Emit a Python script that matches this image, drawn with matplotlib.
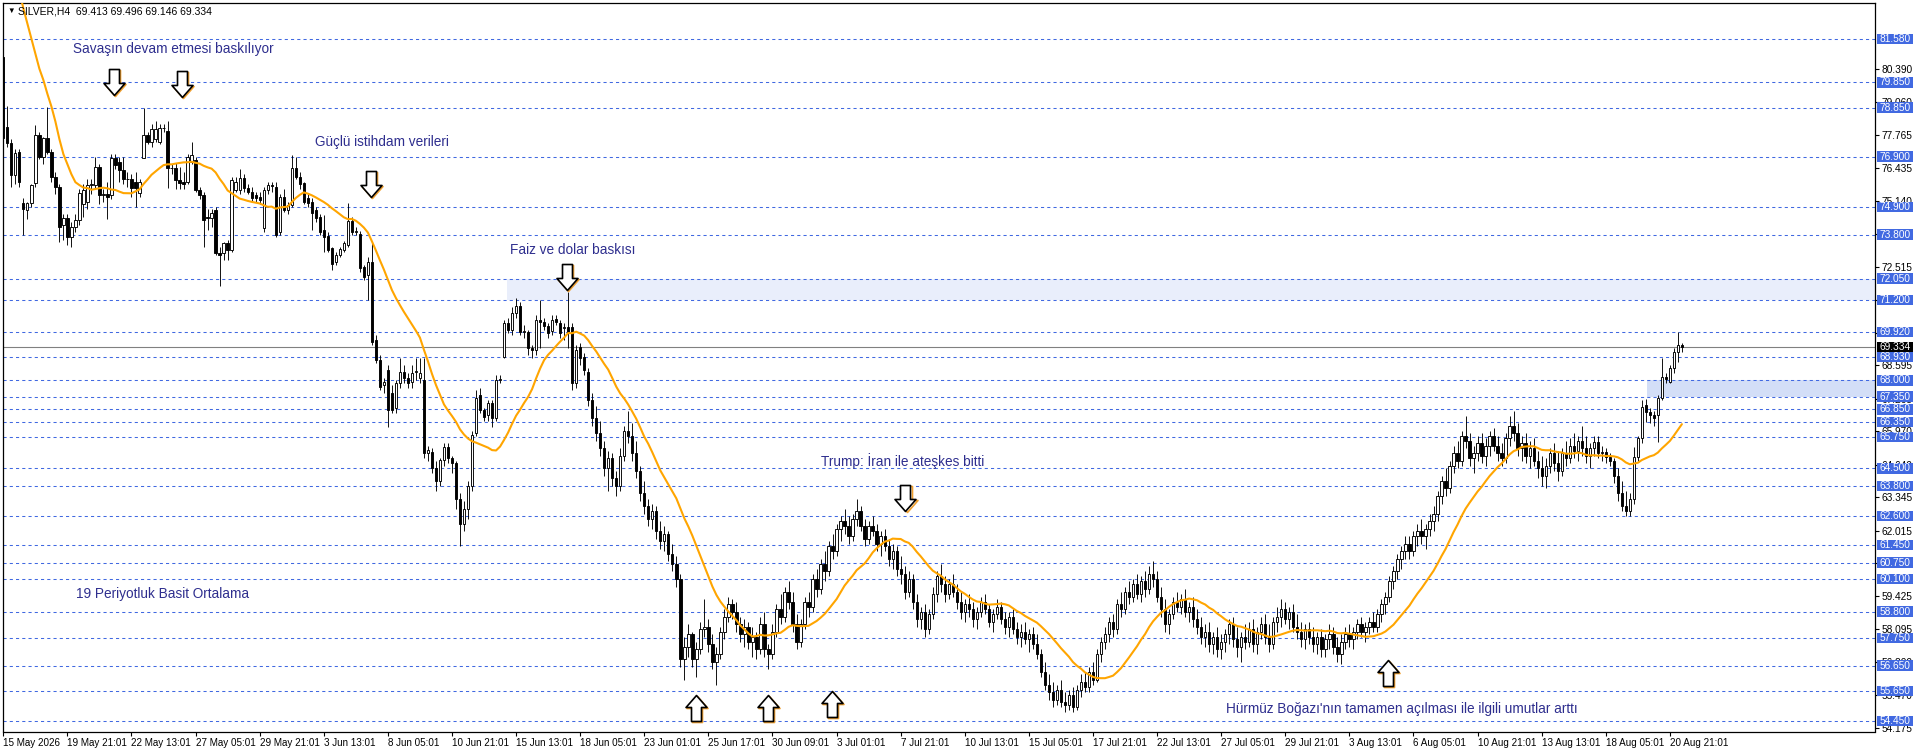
import numpy as np
import matplotlib
matplotlib.use("Agg")
import matplotlib.pyplot as plt
from matplotlib.patches import Rectangle
from matplotlib.path import Path
import matplotlib.transforms as mtransforms

# ---------------- data (SILVER, H4) ----------------
opens = [
    80.86, 78.09, 77.43, 76.17, 77.10, 75.04, 74.78, 75.04, 75.84, 77.76,
    76.90, 77.63, 77.10, 76.10, 75.71, 74.18, 74.45, 73.72, 74.12, 74.38,
    75.00, 75.10, 75.77, 75.77, 76.50, 75.38, 75.40, 75.38, 76.83, 76.70,
    76.37, 76.00, 76.00, 75.90, 75.44, 76.83, 77.76, 77.50, 77.60, 77.50,
    78.03, 77.93, 76.44, 76.44, 75.97, 75.91, 75.91, 76.70, 76.77, 75.57,
    75.38, 74.50, 74.45, 74.78, 73.05, 73.05, 73.45, 73.19, 75.57, 75.57,
    76.04, 75.64, 75.51, 75.37, 75.31, 74.05, 75.57, 75.77, 75.70, 73.92,
    75.31, 74.78, 74.98, 76.44, 76.10, 75.84, 75.24, 75.11, 74.78, 74.51,
    73.98, 73.74, 73.25, 72.72, 72.99, 73.19, 73.39, 74.32, 73.92, 73.82,
    72.52, 72.19, 72.72, 69.61, 68.81, 67.82, 68.41, 67.49, 66.89, 67.88,
    68.35, 68.08, 67.95, 68.35, 68.08, 68.02, 65.10, 65.16, 64.50, 64.00,
    64.83, 65.36, 64.90, 64.70, 63.30, 62.30, 62.90, 63.80, 65.89, 67.42,
    66.82, 66.62, 67.09, 66.49, 68.02, 68.94, 70.27, 70.00, 70.67, 70.96,
    69.94, 69.94, 69.28, 69.21, 70.40, 70.34, 70.16, 69.96, 70.43, 70.27,
    70.10, 70.14, 70.14, 67.88, 69.34, 68.94, 68.35, 67.22, 66.50, 65.90,
    65.30, 64.50, 64.90, 64.10, 63.80, 65.00, 66.00, 65.80, 65.10, 64.40,
    63.50, 63.00, 62.50, 62.80, 62.00, 61.60, 61.90, 61.10, 60.70, 60.10,
    56.90, 57.40, 57.90, 56.90, 57.30, 58.10, 58.20, 57.50, 56.80, 57.10,
    58.00, 58.60, 59.10, 58.80, 58.30, 57.90, 58.20, 57.60, 57.80, 57.30,
    58.30, 57.30, 57.10, 58.00, 58.90, 58.60, 59.60, 59.20, 58.30, 57.60,
    58.30, 59.20, 59.00, 60.10, 59.70, 60.70, 60.40, 61.40, 61.20, 62.10,
    62.40, 62.20, 61.80, 62.50, 62.80, 62.20, 61.70, 62.20, 62.00, 61.50,
    61.80, 61.40, 60.90, 61.20, 60.50, 60.30, 59.60, 60.10, 59.20, 58.50,
    58.80, 58.10, 58.70, 59.50, 60.20, 59.90, 59.50, 59.90, 59.60, 59.20,
    58.80, 59.10, 58.90, 58.50, 58.80, 59.20, 58.90, 58.40, 58.70, 59.00,
    58.50, 58.20, 58.60, 58.10, 57.80, 58.00, 57.70, 57.90, 57.50, 57.10,
    56.40, 55.90, 55.60, 55.30, 55.70, 55.20, 55.10, 55.50, 55.00, 55.70,
    56.00, 55.80, 56.40, 56.10, 57.10, 57.60, 57.90, 58.40, 58.10, 59.10,
    58.90, 59.60, 59.40, 59.90, 59.50, 60.00, 59.70, 60.30, 60.10, 59.40,
    58.90, 58.30, 58.70, 59.20, 59.00, 59.30, 58.80, 59.00, 58.50, 58.20,
    57.80, 58.00, 57.50, 57.80, 57.30, 57.60, 57.90, 58.30, 57.70, 57.40,
    57.80, 57.60, 58.10, 57.50, 58.00, 58.30, 57.80, 57.50, 58.40, 58.60,
    58.90, 58.50, 58.80, 58.20, 58.00, 57.70, 58.10, 57.80, 57.50, 57.80,
    57.30, 57.70, 57.90, 57.40, 57.10, 57.60, 57.90, 57.70, 58.00, 58.30,
    58.00, 58.20, 58.40, 58.20, 58.70, 59.10, 59.40, 60.00, 60.40, 60.90,
    61.20, 61.50, 61.20, 61.80, 62.00, 61.80, 62.10, 62.40, 62.70, 63.40,
    64.00, 63.70, 64.60, 65.10, 64.80, 65.80, 65.60, 64.90, 65.10, 65.50,
    65.00, 65.40, 65.80, 65.40, 65.10, 64.90, 65.70, 66.20, 65.90, 65.30,
    65.50, 65.00, 65.30, 64.80, 64.50, 64.20, 64.60, 65.10, 64.70, 64.40,
    65.10, 64.90, 65.40, 65.20, 65.60, 65.30, 65.00, 65.30, 65.56, 65.10,
    65.16, 64.96, 64.80, 64.20, 63.50, 63.00, 62.80, 63.30, 64.96, 65.69,
    67.02, 66.75, 66.62, 66.62, 67.28, 68.15, 67.95, 68.48, 69.11, 69.413,
]
highs = [
    81.60, 78.90, 77.60, 77.20, 77.20, 75.24, 75.10, 75.80, 78.16, 77.90,
    77.70, 78.89, 77.20, 76.30, 75.80, 74.60, 74.60, 74.30, 74.60, 75.60,
    75.80, 76.00, 76.00, 76.90, 76.60, 75.60, 75.90, 77.00, 77.00, 76.90,
    76.90, 76.30, 76.20, 76.30, 76.00, 78.82, 77.90, 78.20, 78.30, 78.20,
    78.20, 78.30, 76.60, 76.64, 76.50, 76.30, 77.00, 77.50, 76.90, 75.70,
    75.50, 74.80, 74.80, 74.90, 73.30, 73.50, 73.60, 76.10, 76.10, 76.40,
    76.20, 75.80, 75.70, 75.50, 75.50, 75.70, 75.90, 75.90, 75.90, 75.40,
    75.60, 75.10, 76.97, 76.90, 76.30, 75.90, 75.40, 75.24, 74.90, 74.60,
    74.58, 73.90, 73.30, 73.10, 73.30, 73.55, 75.04, 74.50, 74.10, 73.95,
    72.60, 72.92, 73.45, 69.80, 69.00, 68.10, 68.60, 67.80, 68.00, 68.88,
    68.60, 68.30, 68.60, 68.90, 68.90, 68.90, 65.40, 65.30, 64.80, 64.90,
    65.50, 65.50, 65.00, 64.80, 63.50, 63.20, 64.00, 66.00, 67.60, 67.70,
    66.90, 67.20, 67.20, 68.20, 68.20, 70.40, 70.50, 70.90, 71.26, 71.10,
    70.20, 70.00, 69.40, 70.60, 71.20, 70.50, 70.30, 70.60, 70.60, 70.40,
    70.30, 71.53, 70.30, 69.40, 69.50, 69.10, 68.50, 67.50, 67.00, 66.40,
    65.60, 65.20, 65.10, 64.40, 65.30, 66.20, 66.80, 66.30, 65.60, 64.60,
    64.00, 63.30, 63.10, 63.00, 62.40, 62.20, 62.00, 61.50, 61.00, 60.30,
    57.80, 58.30, 58.00, 57.60, 58.40, 59.30, 58.50, 57.90, 57.40, 58.20,
    58.90, 59.40, 59.30, 59.20, 58.60, 58.50, 58.40, 58.20, 58.00, 58.60,
    58.80, 57.50, 58.30, 59.10, 59.50, 59.80, 60.00, 59.60, 58.70, 58.50,
    59.40, 59.60, 60.30, 60.50, 60.90, 61.20, 61.60, 61.90, 62.30, 62.60,
    62.90, 62.60, 62.70, 63.30, 63.00, 62.50, 62.40, 62.60, 62.30, 62.00,
    62.10, 61.70, 61.50, 61.40, 61.00, 60.60, 60.40, 60.30, 59.50, 59.00,
    59.10, 58.90, 59.80, 60.40, 60.70, 60.20, 60.10, 60.30, 59.90, 59.60,
    59.30, 59.50, 59.20, 59.00, 59.40, 59.50, 59.10, 58.90, 59.30, 59.20,
    58.80, 58.80, 58.90, 58.40, 58.30, 58.40, 58.10, 58.20, 57.90, 57.30,
    56.80, 56.30, 56.00, 55.90, 56.10, 55.60, 55.70, 55.80, 55.90, 56.30,
    56.40, 56.60, 56.80, 57.30, 57.80, 58.20, 58.60, 58.70, 59.30, 59.60,
    59.80, 60.00, 60.10, 60.30, 60.20, 60.40, 60.60, 60.80, 60.40, 59.80,
    59.30, 58.90, 59.40, 59.60, 59.50, 59.70, 59.20, 59.40, 58.90, 58.60,
    58.30, 58.40, 58.00, 58.20, 57.90, 58.10, 58.50, 58.60, 58.20, 58.00,
    58.30, 58.40, 58.50, 58.20, 58.60, 58.70, 58.30, 58.60, 59.00, 59.30,
    59.20, 59.00, 59.10, 58.70, 58.40, 58.30, 58.40, 58.20, 58.00, 58.10,
    57.90, 58.30, 58.20, 57.80, 57.90, 58.20, 58.30, 58.20, 58.50, 58.60,
    58.40, 58.60, 58.80, 58.90, 59.30, 59.60, 60.20, 60.60, 61.10, 61.40,
    61.80, 61.80, 62.00, 62.30, 62.50, 62.30, 62.70, 63.00, 63.60, 64.20,
    64.50, 64.80, 65.40, 65.60, 66.00, 66.60, 65.90, 65.40, 65.80, 65.90,
    65.70, 66.00, 66.10, 65.80, 65.50, 65.90, 66.60, 66.80, 66.30, 65.80,
    65.90, 65.60, 65.70, 65.20, 65.00, 64.90, 65.30, 65.50, 65.20, 65.30,
    65.60, 65.70, 65.90, 65.80, 66.20, 65.80, 65.50, 65.80, 65.80, 65.40,
    65.30, 65.10, 64.90, 64.50, 64.00, 63.60, 63.50, 65.36, 65.80, 67.20,
    67.25, 66.90, 66.80, 67.40, 68.90, 68.30, 68.60, 69.30, 69.94, 69.496,
]
lows = [
    77.40, 77.30, 75.70, 75.80, 75.70, 73.78, 74.40, 74.90, 75.70, 76.80,
    76.60, 77.00, 75.90, 75.40, 73.50, 73.60, 73.40, 73.30, 73.90, 74.20,
    74.50, 74.80, 75.40, 75.60, 75.00, 75.10, 74.40, 75.20, 76.40, 75.90,
    75.80, 75.70, 75.30, 74.90, 75.30, 76.83, 77.40, 77.30, 77.50, 77.40,
    77.90, 75.64, 76.20, 75.60, 75.60, 75.60, 75.80, 76.60, 75.50, 75.20,
    73.32, 74.00, 74.10, 73.00, 71.75, 72.80, 72.80, 73.10, 75.50, 75.40,
    75.50, 75.40, 75.10, 75.10, 75.00, 73.90, 75.40, 75.50, 73.70, 73.80,
    74.70, 74.60, 74.90, 76.00, 75.60, 75.00, 74.90, 73.98, 74.30, 73.80,
    73.10, 73.10, 72.40, 72.60, 72.90, 73.10, 73.30, 73.80, 73.80, 72.30,
    72.00, 71.20, 69.40, 68.70, 67.60, 67.50, 66.16, 66.70, 66.70, 67.70,
    67.90, 67.70, 67.70, 68.00, 67.90, 64.90, 64.80, 64.30, 63.60, 63.80,
    64.60, 64.70, 64.30, 62.90, 61.40, 62.00, 62.50, 63.60, 65.80, 66.70,
    66.40, 66.40, 66.16, 66.40, 67.90, 68.90, 69.90, 69.80, 70.50, 69.80,
    69.70, 69.00, 68.90, 69.00, 69.30, 70.00, 69.70, 69.80, 70.20, 69.70,
    69.60, 69.30, 67.60, 67.70, 68.60, 68.20, 67.00, 66.20, 65.60, 65.00,
    64.20, 63.60, 63.80, 63.40, 63.60, 64.80, 65.50, 64.80, 64.10, 63.20,
    62.70, 62.20, 62.10, 61.70, 61.30, 61.20, 60.80, 60.40, 59.80, 56.60,
    56.10, 57.00, 56.60, 56.20, 57.10, 57.80, 57.20, 56.50, 55.90, 56.90,
    57.70, 58.40, 58.50, 58.00, 57.60, 57.40, 57.30, 57.00, 56.90, 57.10,
    57.00, 56.50, 56.90, 57.80, 58.30, 58.40, 58.90, 58.00, 57.30, 57.40,
    58.10, 58.60, 58.80, 59.40, 59.50, 60.00, 60.20, 60.90, 61.00, 61.60,
    61.90, 61.50, 61.60, 62.20, 62.00, 61.40, 61.50, 61.80, 61.20, 61.00,
    61.20, 60.60, 60.50, 60.20, 59.90, 59.30, 59.40, 58.90, 58.20, 58.10,
    57.80, 57.90, 58.50, 59.20, 59.60, 59.20, 59.30, 59.40, 58.90, 58.50,
    58.40, 58.60, 58.20, 58.10, 58.60, 58.70, 58.20, 58.00, 58.50, 58.30,
    57.90, 57.80, 57.90, 57.50, 57.40, 57.50, 57.20, 57.30, 56.90, 56.20,
    55.70, 55.30, 55.00, 55.10, 55.00, 54.80, 54.90, 54.80, 54.90, 55.40,
    55.60, 55.60, 55.90, 56.00, 56.80, 57.30, 57.60, 57.80, 57.90, 58.60,
    58.70, 59.10, 59.20, 59.30, 59.20, 59.40, 59.50, 59.80, 59.20, 58.60,
    58.00, 57.90, 58.50, 58.80, 58.70, 58.60, 58.40, 58.20, 57.90, 57.50,
    57.40, 57.20, 57.10, 57.00, 56.90, 57.20, 57.50, 57.40, 57.00, 56.80,
    57.30, 57.40, 57.20, 57.10, 57.70, 57.50, 57.20, 57.30, 58.00, 58.20,
    58.30, 58.10, 58.00, 57.70, 57.40, 57.30, 57.50, 57.20, 57.10, 57.00,
    57.00, 57.30, 57.10, 56.80, 56.70, 57.30, 57.40, 57.30, 57.70, 57.80,
    57.60, 57.90, 58.00, 58.00, 58.40, 58.70, 59.20, 59.70, 60.10, 60.50,
    60.90, 60.90, 61.00, 61.40, 61.50, 61.30, 61.80, 62.00, 62.40, 63.10,
    63.40, 63.50, 64.30, 64.50, 64.60, 65.30, 64.60, 64.30, 64.80, 64.70,
    64.60, 65.00, 65.20, 64.80, 64.60, 64.70, 65.40, 65.60, 65.00, 64.80,
    64.70, 64.50, 64.60, 64.10, 63.80, 63.70, 64.30, 64.40, 64.00, 64.20,
    64.60, 64.70, 64.90, 64.80, 65.00, 64.70, 64.50, 65.00, 64.90, 64.80,
    64.70, 64.60, 63.90, 63.20, 62.80, 62.60, 62.60, 63.10, 64.80, 65.50,
    66.35, 66.30, 66.20, 65.56, 67.20, 67.90, 67.90, 68.30, 68.75, 69.146,
]
closes = [
    77.63, 77.43, 76.17, 77.05, 75.90, 74.80, 75.04, 75.77, 77.76, 76.90,
    77.63, 77.10, 76.10, 75.71, 74.12, 74.45, 73.72, 74.12, 74.38, 75.44,
    75.57, 75.77, 75.80, 76.50, 75.38, 75.40, 75.30, 76.83, 76.57, 76.37,
    76.00, 76.02, 75.64, 75.64, 75.91, 77.76, 77.50, 78.00, 78.00, 78.03,
    78.03, 76.44, 76.44, 75.97, 75.84, 75.80, 76.90, 76.97, 75.57, 75.38,
    74.38, 74.45, 74.65, 73.05, 72.99, 73.45, 73.19, 75.97, 75.91, 76.04,
    75.64, 75.51, 75.24, 75.24, 75.18, 75.57, 75.77, 75.72, 73.78, 75.31,
    74.78, 74.98, 76.44, 76.10, 75.80, 75.11, 75.04, 74.65, 74.45, 73.92,
    73.72, 73.19, 72.63, 72.99, 73.21, 73.45, 74.32, 73.92, 73.95, 72.46,
    72.13, 72.72, 69.54, 68.81, 67.75, 67.95, 66.82, 66.82, 67.88, 68.35,
    68.08, 67.88, 68.28, 68.37, 68.28, 65.10, 65.23, 64.50, 64.00, 64.83,
    65.36, 64.90, 64.70, 63.30, 62.30, 62.90, 63.80, 65.83, 67.29, 66.82,
    66.56, 67.09, 66.49, 68.02, 68.05, 70.27, 70.00, 70.67, 70.96, 69.94,
    69.96, 69.28, 69.21, 70.40, 70.34, 70.16, 69.87, 70.40, 70.34, 69.87,
    70.14, 69.90, 67.88, 69.20, 68.88, 68.41, 67.22, 66.50, 65.90, 65.30,
    64.50, 64.90, 64.10, 63.80, 65.00, 66.00, 65.80, 65.10, 64.40, 63.50,
    63.00, 62.50, 62.80, 62.00, 61.60, 61.90, 61.10, 60.70, 60.10, 56.90,
    57.40, 57.90, 56.90, 57.30, 58.10, 58.20, 57.50, 56.80, 57.10, 58.00,
    58.60, 59.10, 58.80, 58.30, 57.90, 58.20, 57.60, 57.80, 57.30, 58.30,
    57.30, 57.10, 58.00, 58.90, 58.60, 59.60, 59.20, 58.30, 57.60, 58.30,
    59.20, 59.00, 60.10, 59.70, 60.70, 60.40, 61.40, 61.20, 62.10, 62.40,
    62.20, 61.80, 62.50, 62.80, 62.20, 61.70, 62.20, 62.00, 61.50, 61.80,
    61.40, 60.90, 61.20, 60.50, 60.30, 59.60, 60.10, 59.20, 58.50, 58.80,
    58.10, 58.70, 59.50, 60.20, 59.90, 59.50, 59.90, 59.60, 59.20, 58.80,
    59.10, 58.90, 58.50, 58.80, 59.20, 58.90, 58.40, 58.70, 59.00, 58.50,
    58.20, 58.60, 58.10, 57.80, 58.00, 57.70, 57.90, 57.50, 57.10, 56.40,
    55.90, 55.60, 55.30, 55.70, 55.20, 55.10, 55.50, 55.00, 55.70, 56.00,
    55.80, 56.40, 56.10, 57.10, 57.60, 57.90, 58.40, 58.10, 59.10, 58.90,
    59.60, 59.40, 59.90, 59.50, 60.00, 59.70, 60.30, 60.10, 59.40, 58.90,
    58.30, 58.70, 59.20, 59.00, 59.30, 58.80, 59.00, 58.50, 58.20, 57.80,
    58.00, 57.50, 57.80, 57.30, 57.60, 57.90, 58.30, 57.70, 57.40, 57.80,
    57.60, 58.10, 57.50, 58.00, 58.30, 57.80, 57.50, 58.40, 58.60, 58.90,
    58.50, 58.80, 58.20, 58.00, 57.70, 58.10, 57.80, 57.50, 57.80, 57.30,
    57.70, 57.90, 57.40, 57.10, 57.60, 57.90, 57.70, 58.00, 58.30, 58.00,
    58.20, 58.40, 58.20, 58.70, 59.10, 59.40, 60.00, 60.40, 60.90, 61.20,
    61.50, 61.20, 61.80, 62.00, 61.80, 62.10, 62.40, 62.70, 63.40, 64.00,
    63.70, 64.60, 65.10, 64.80, 65.80, 65.60, 64.90, 65.10, 65.50, 65.00,
    65.40, 65.80, 65.40, 65.10, 64.90, 65.70, 66.20, 65.90, 65.30, 65.50,
    65.00, 65.30, 64.80, 64.50, 64.20, 64.60, 65.10, 64.70, 64.40, 65.10,
    64.90, 65.40, 65.20, 65.60, 65.30, 65.00, 65.30, 65.56, 65.10, 65.16,
    64.96, 64.80, 64.20, 63.50, 63.00, 62.80, 63.30, 64.96, 65.69, 66.95,
    66.75, 66.62, 66.50, 67.28, 68.15, 68.04, 68.48, 69.14, 69.41, 69.334,
]
# 19-period SMA: values for the first bars (history before the window)
ma_head = [86.3, 85.6, 84.9, 84.2, 83.5, 82.8, 82.2, 81.6, 81.0, 80.4,
           79.95, 79.4, 78.9, 78.3, 77.6, 77.0, 76.6, 76.2]
ma_period = 19

levels = [81.58, 79.85, 78.85, 76.90, 74.90, 73.80, 72.05, 71.20, 69.92, 68.93,
          68.00, 67.35, 66.85, 66.35, 65.75, 64.50, 63.80, 62.60, 61.45, 60.75,
          60.10, 58.80, 57.75, 56.65, 55.65, 54.45]
axis_ticks = [80.390, 79.060, 77.765, 76.435, 75.140, 73.810, 72.515, 71.185,
              69.890, 68.595, 67.265, 65.970, 64.640, 63.345, 62.015, 60.720,
              59.425, 58.095, 56.800, 55.470, 54.175]
zone_start = [125.7, 410.2]
zone_low = [71.20, 67.35]
zone_high = [72.05, 68.00]

date_labels = ["15 May 2026", "19 May 21:01", "22 May 13:01", "27 May 05:01",
               "29 May 21:01", "3 Jun 13:01", "8 Jun 05:01", "10 Jun 21:01",
               "15 Jun 13:01", "18 Jun 05:01", "23 Jun 01:01", "25 Jun 17:01",
               "30 Jun 09:01", "3 Jul 01:01", "7 Jul 21:01", "10 Jul 13:01",
               "15 Jul 05:01", "17 Jul 21:01", "22 Jul 13:01", "27 Jul 05:01",
               "29 Jul 21:01", "3 Aug 13:01", "6 Aug 05:01", "10 Aug 21:01",
               "13 Aug 13:01", "18 Aug 05:01", "20 Aug 21:01"]
label_step = 16

notes = ["Savaşın devam etmesi baskılıyor", "Güçlü istihdam verileri",
         "Faiz ve dolar baskısı", "Trump: İran ile ateşkes bitti",
         "19 Periyotluk Basit Ortalama",
         "Hürmüz Boğazı'nın tamamen açılması ile ilgili umutlar arttı"]
note_x = [17.4, 77.8, 126.5, 204.1, 18.2, 305.2]
note_y = [81.18, 77.48, 73.19, 64.79, 59.50, 54.93]

arrow_x = [27.6, 44.7, 91.8, 140.6, 225.2, 172.9, 190.8, 206.8, 345.7]
arrow_tip = [79.35, 79.27, 75.30, 71.60, 62.80, 55.50, 55.50, 55.66, 56.88]
arrow_dir = ["down", "down", "down", "down", "down", "up", "up", "up", "up"]

# ---------------- figure ----------------
W, H = 1916, 753
PX_L, PX_R, PX_T, PX_B = 3, 1875, 3, 731.5
fig = plt.figure(figsize=(W / 100, H / 100), dpi=100)
fig.patch.set_facecolor("white")
ax = fig.add_axes([PX_L / W, (H - PX_B) / H, (PX_R - PX_L) / W, (PX_B - PX_T) / H])
ax.set_facecolor("white")
YMIN, YMAX = 54.032, 83.012
XMIN, XMAX = -0.075, 467.2
ax.set_ylim(YMIN, YMAX)
ax.set_xlim(XMIN, XMAX)
FONT = ["Liberation Sans", "DejaVu Sans"]

o = np.array(opens); h = np.array(highs); l = np.array(lows); c = np.array(closes)
n = len(c)
x = np.arange(n)

# zones
for xs, lo, hi, col in zip(zone_start, zone_low, zone_high, ["#e9eefb", "#d3def7"]):
    ax.add_patch(Rectangle((xs, lo), XMAX - xs, hi - lo, facecolor=col,
                           edgecolor="none", zorder=0.5))

# levels
level_col = "#4169e1"
for lv in levels:
    ax.axhline(lv, color=level_col, lw=0.75, ls=(0, (3, 3)), zorder=1)

# bid line
ax.axhline(c[-1], color="#808080", lw=0.8, zorder=1.2)

# candles
ax.vlines(x, l, h, color="black", lw=0.65, zorder=2)
up = c >= o
body_lo = np.minimum(o, c)
body_h = np.maximum(np.abs(c - o), 0.015)
ax.bar(x[up], body_h[up], bottom=body_lo[up], width=0.58, facecolor="white",
       edgecolor="black", linewidth=0.65, zorder=3)
ax.bar(x[~up], body_h[~up], bottom=body_lo[~up], width=0.58, facecolor="black",
       edgecolor="black", linewidth=0.65, zorder=3)

# moving average
ma = np.empty(n)
ma[:len(ma_head)] = ma_head
kern = np.ones(ma_period) / ma_period
ma[ma_period - 1:] = np.convolve(c, kern, mode="valid")
ax.plot(x, ma, color="#ffa500", lw=1.5, zorder=4, solid_capstyle="round")

# arrows (hollow block arrows)
down_verts = [(-5, 13), (5, 13), (5, -1), (10.5, -1), (0, -13), (-10.5, -1), (-5, -1), (-5, 13)]
up_verts = [(vx, -vy) for vx, vy in down_verts]
down_path = Path(down_verts, closed=True)
up_path = Path(up_verts, closed=True)
half = 13 / 25.138
shadow = mtransforms.offset_copy(ax.transData, fig=fig, x=0.8, y=-0.8, units="points")
for ax_x, tip, d in zip(arrow_x, arrow_tip, arrow_dir):
    if d == "down":
        cy, mk = tip + half, down_path
    else:
        cy, mk = tip - half, up_path
    ax.plot([ax_x], [cy], marker=mk, markersize=18.7, markerfacecolor="none",
            markeredgecolor="#f0a030", markeredgewidth=1.2, zorder=5, transform=shadow)
    ax.plot([ax_x], [cy], marker=mk, markersize=18.7, markerfacecolor="white",
            markeredgecolor="black", markeredgewidth=1.2, zorder=6)

# annotations
for s, tx, ty in zip(notes, note_x, note_y):
    ax.text(tx, ty, s, color="#2e2e8e", fontsize=9.8, family=FONT,
            va="center", ha="left", zorder=7)

# axes styling
for sp in ax.spines.values():
    sp.set_color("black")
    sp.set_linewidth(0.9)
ax.yaxis.tick_right()
ax.set_yticks(axis_ticks)
ax.set_yticklabels([f"{t:.3f}" for t in axis_ticks], family=FONT, fontsize=7.3)
ax.tick_params(axis="y", length=3, width=0.8, pad=2, colors="black")
ticks = np.arange(len(date_labels)) * label_step
ax.set_xticks(ticks)
ax.set_xticklabels(date_labels, family=FONT, fontsize=7.1, ha="left")
ax.tick_params(axis="x", length=3, width=0.8, pad=2, colors="black")

# price level labels on right axis
ytr = ax.get_yaxis_transform()
span = PX_R - PX_L
bx0 = (1877 - PX_L) / span
bw = 36 / span
bh = 10.5 / 25.138
tx_c = (1895 - PX_L) / span
for lv in levels:
    ax.add_patch(Rectangle((bx0, lv - bh / 2), bw, bh, transform=ytr,
                           facecolor=level_col, edgecolor="none", clip_on=False, zorder=8))
    ax.text(tx_c, lv, f"{lv:.3f}", transform=ytr, color="white", fontsize=7.3,
            family=FONT, ha="center", va="center", clip_on=False, zorder=9)
ax.add_patch(Rectangle((bx0, c[-1] - bh / 2), bw, bh, transform=ytr,
                       facecolor="black", edgecolor="none", clip_on=False, zorder=8))
ax.text(tx_c, c[-1], f"{c[-1]:.3f}", transform=ytr, color="white", fontsize=7.3,
        family=FONT, ha="center", va="center", clip_on=False, zorder=9)

# header
fig.text(7 / W, 1 - 11 / H, "▼", fontsize=5.5, family=FONT, va="center", ha="left")
fig.text(18 / W, 1 - 11 / H,
         f"SILVER,H4  {o[-1]:.3f} {h[-1]:.3f} {l[-1]:.3f} {c[-1]:.3f}",
         fontsize=7.5, family=FONT, va="center", ha="left", color="black")

fig.savefig("out.png", dpi=100, facecolor="white")
